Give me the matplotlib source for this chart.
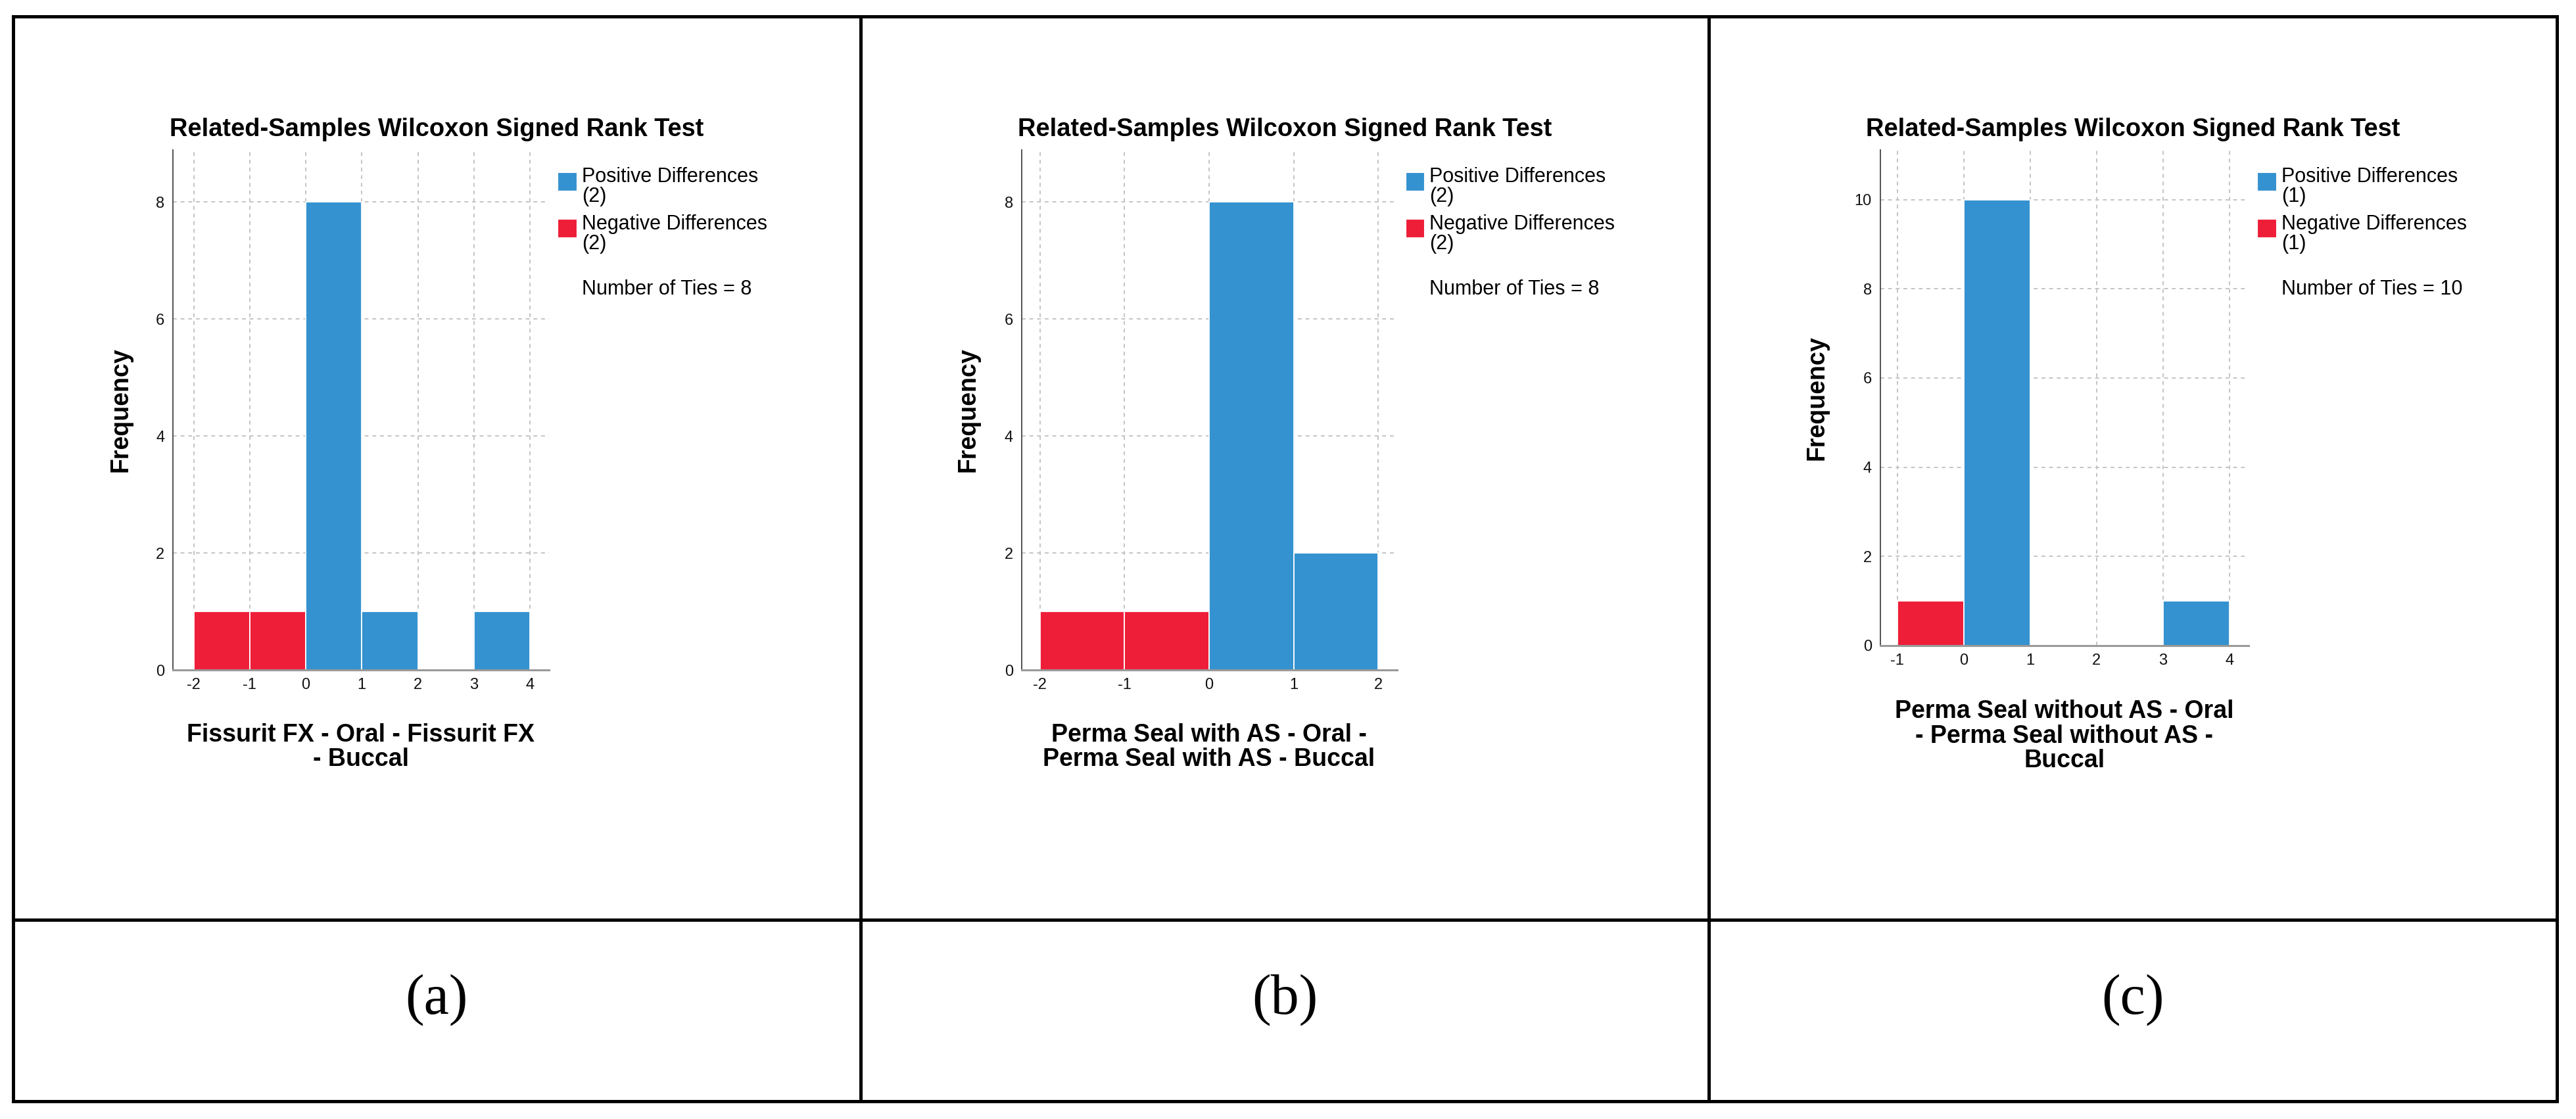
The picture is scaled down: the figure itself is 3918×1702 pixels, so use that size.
import matplotlib
matplotlib.use("Agg")
import matplotlib.pyplot as plt
from matplotlib.lines import Line2D
from matplotlib.patches import Rectangle

# --- data ---
edges_a = [-2, -1, 0, 1, 2, 3]
counts_a = [1, 1, 8, 1, 0, 1]
edges_b = [-2, -1, 0, 1]
counts_b = [1, 1, 8, 2]
edges_c = [-1, 0, 1, 2, 3]
counts_c = [1, 10, 0, 0, 1]

xticks_a = [-2, -1, 0, 1, 2, 3, 4]
xticks_b = [-2, -1, 0, 1, 2]
xticks_c = [-1, 0, 1, 2, 3, 4]
yticks_ab = [0, 2, 4, 6, 8]
yticks_c = [0, 2, 4, 6, 8, 10]

xlabels = ["Fissurit FX - Oral - Fissurit FX\n- Buccal",
           "Perma Seal with AS - Oral -\nPerma Seal with AS - Buccal",
           "Perma Seal without AS - Oral\n- Perma Seal without AS -\nBuccal"]
n_pos = [2, 2, 1]
n_neg = [2, 2, 1]
n_ties = [8, 8, 10]
captions = ["(a)", "(b)", "(c)"]
title = "Related-Samples Wilcoxon Signed Rank Test"

BLUE = "#3592d0"
RED = "#ee1e39"
SANS = "Liberation Sans"
plt.rcParams["axes.unicode_minus"] = False

W, H = 3918, 1702
fig = plt.figure(figsize=(W / 100, H / 100), dpi=100)
fig.patch.set_facecolor("white")


def fx(x):
    return x / W


def fy(y):
    return 1 - y / H


# table frame
cols = [19.5, 1309.3, 2599.3, 3889]
top, mid, bot = 24.5, 1399.3, 1675.2
for y in (top, mid, bot):
    fig.add_artist(Line2D([fx(cols[0]), fx(cols[-1])], [fy(y), fy(y)],
                          color="black", lw=3.6, solid_capstyle="projecting"))
for x in cols:
    fig.add_artist(Line2D([fx(x), fx(x)], [fy(top), fy(bot)],
                          color="black", lw=3.6, solid_capstyle="projecting"))

# axes boxes in pixels: left, top, right, bottom
boxes = [(263, 228, 835, 1019), (1553.5, 228, 2124.5, 1019), (2859.5, 228, 3420, 981.6)]
xlims = [(-2.37, 4.34), (-2.22, 2.22), (-1.26, 4.29)]
ylims = [(0, 8.89), (0, 8.89), (0, 11.12)]
ylab_off = [80, 81, 96]
xlab_y = [1136.5, 1136.5, 1119.5]
panels = [(edges_a, counts_a, xticks_a, yticks_ab),
          (edges_b, counts_b, xticks_b, yticks_ab),
          (edges_c, counts_c, xticks_c, yticks_c)]

for i, (edges, counts, xt, yt) in enumerate(panels):
    l, t, r, b = boxes[i]
    ax = fig.add_axes([fx(l), fy(b), (r - l) / W, (b - t) / H])
    colors = [RED if e < 0 else BLUE for e in edges]
    ax.bar(edges, counts, width=1, align="edge", color=colors,
           edgecolor="white", linewidth=1.3)
    ax.set_xlim(*xlims[i])
    ax.set_ylim(*ylims[i])
    ax.set_xticks(xt)
    ax.set_yticks(yt)
    ax.set_axisbelow(True)
    ax.grid(True, linestyle=(0, (3, 3)), color="#c4c4c4", linewidth=1.4)
    for s in ("top", "right"):
        ax.spines[s].set_visible(False)
    ax.spines["left"].set_color("#444444")
    ax.spines["left"].set_linewidth(1.3)
    ax.spines["bottom"].set_color("#9a9a9a")
    ax.spines["bottom"].set_linewidth(2.2)
    ax.tick_params(length=0, pad=9, labelsize=17, labelcolor="#111111")
    for lab in ax.get_xticklabels() + ax.get_yticklabels():
        lab.set_family(SANS)

    cx = (cols[i] + cols[i + 1]) / 2
    fig.text(fx(cx), fy(197), title, ha="center", va="center",
             family=SANS, fontweight="bold", fontsize=27.4)
    fig.text(fx(l - ylab_off[i]), fy((t + b) / 2), "Frequency", rotation=90,
             ha="center", va="center", family=SANS, fontweight="bold", fontsize=27)
    fig.text(fx((l + r) / 2), fy(xlab_y[i]), xlabels[i], ha="center", va="center",
             family=SANS, fontweight="bold", fontsize=27, linespacing=1.05)

    # legend block
    sq = r + 13
    for y0, col in ((261.7, BLUE), (332.7, RED)):
        fig.add_artist(Rectangle((fx(sq), fy(y0 + 28.5)), 28.5 / W, 28.5 / H,
                                 transform=fig.transFigure, facecolor=col,
                                 edgecolor="white", lw=0.8))
    # baseline of a two-line text is that of its last line
    fig.text(fx(sq + 37), fy(307), "Positive Differences\n(%d)" % n_pos[i],
             ha="left", va="baseline", family=SANS, fontsize=22, linespacing=1.0)
    fig.text(fx(sq + 37), fy(378.5), "Negative Differences\n(%d)" % n_neg[i],
             ha="left", va="baseline", family=SANS, fontsize=22, linespacing=1.0)
    fig.text(fx(sq + 37), fy(448.3), "Number of Ties = %d" % n_ties[i],
             ha="left", va="baseline", family=SANS, fontsize=22)

    fig.text(fx(cx), fy(1521), captions[i], ha="center", va="center",
             family="Liberation Serif", fontsize=62)

fig.savefig("out.png", dpi=100, facecolor="white")
